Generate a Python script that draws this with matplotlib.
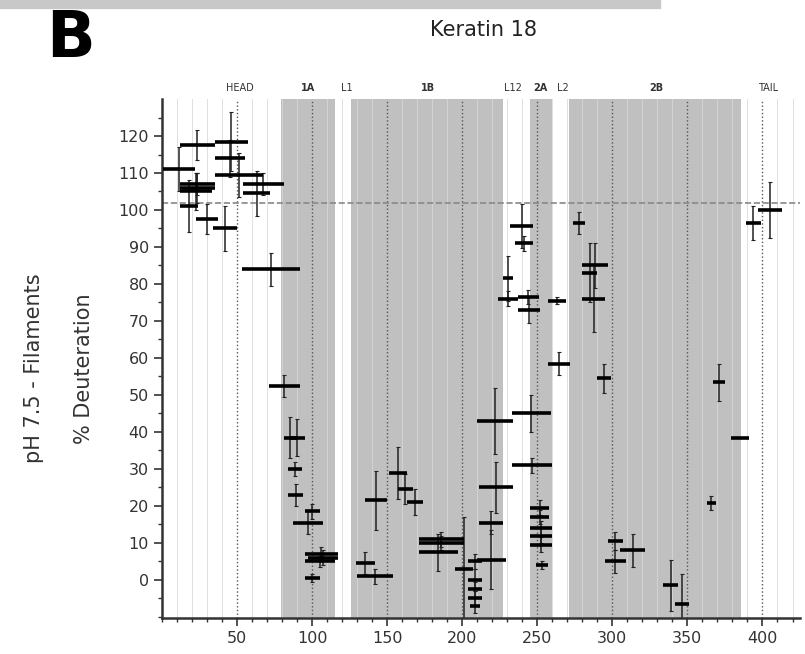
import matplotlib.pyplot as plt
from matplotlib.patches import Rectangle

# peptides: start residue, end residue, % deuteration, error
debut = [1, 12, 12, 12, 12, 12, 23, 34, 35, 35, 35, 54, 54, 53,
         71, 81, 85, 84, 84, 95, 87, 95, 97, 95, 95,
         129, 130, 135, 151, 157, 163, 171, 171, 171, 195, 204, 204, 204, 204, 205,
         210, 211, 211, 210,
         227, 232, 235, 224, 237, 237, 257, 257, 233, 233, 245, 245, 245, 245, 245, 249,
         274, 280, 280, 280, 290, 297, 295, 305, 334, 342, 367, 379, 363,
         389, 397]
fin = [22, 35, 35, 35, 33, 24, 37, 50, 57, 55, 67, 81, 72, 92,
       92, 90, 95, 93, 94, 105, 107, 117, 117, 115, 105,
       142, 154, 150, 163, 167, 174, 201, 201, 197, 207, 213, 213, 213, 213, 212,
       229, 227, 234, 234,
       234, 247, 247, 237, 251, 252, 269, 272, 259, 260, 258, 258, 260, 260, 260, 257,
       282, 297, 290, 295, 299, 307, 309, 322, 344, 351, 375, 391, 369,
       399, 413]
deuteration = [111, 117.5, 107, 106, 105, 101, 97.5, 95, 118.5, 114, 109.5, 107, 104.5, 84,
               52.5, 38.5, 38.5, 30, 23, 18.5, 15.5, 7, 6, 5, 0.5,
               4.6, 1, 21.5, 29, 24.5, 21, 11, 10, 7.5, 3, 5, 0, -2.5, -5, -7,
               5.5, 15.5, 25, 43,
               81.5, 95.7, 91, 76, 76.5, 73, 75.5, 58.5, 45, 31, 19.5, 17, 14, 12, 9.5, 4,
               96.5, 85, 83, 76, 54.5, 10.5, 5, 8, -1.5, -6.5, 53.5, 38.5, 20.8,
               96.5, 100]
erreur = [6, 4, 3, 4, 5, 7, 4, 6, 8, 5, 6, 3, 6, 4.5,
          3, 5.5, 5, 2, 3, 2, 3, 2, 2, 1.5, 1,
          3, 2, 8, 7, 4, 3.5, 2, 2, 5, 14, 2, 3, 2, 2, 2,
          8, 3, 7, 9,
          6, 6, 2, 2, 2, 3.5, 1, 3, 5, 2, 2, 2, 2, 2, 2, 1,
          3, 6, 8, 9, 4, 2.5, 3, 4.5, 7, 8, 5, 0, 2,
          4.5, 7.5]

# domaines
domaines = ["HEAD", "1A", "L1", "1B", "L12", "2A", "L2", "2B", "TAIL"]
pos_domaines = [52, 97, 123, 177, 234, 252, 267, 329, 404]
gras = [False, True, False, True, False, True, False, True, False]
zones_grises = [(79, 115), (126, 227), (245, 260), (271, 386)]

plt.rcParams['font.family'] = 'DejaVu Sans'

fig = plt.figure(figsize=(8.05, 6.54), dpi=100)
ax = fig.add_axes([0.2012, 0.055, 0.7926, 0.7936])

fig.patches.append(Rectangle((0, 0.988), 0.82, 0.012, transform=fig.transFigure,
                             color='#c8c8c8', zorder=0))

for a, b in zones_grises:
    ax.axvspan(a, b, color='#c0c0c0', zorder=0, lw=0)

for x in range(10, 430, 10):
    if x % 50 == 0:
        ax.axvline(x, color='#555555', ls=':', lw=1, zorder=1)
    else:
        ax.axvline(x, color='#d8d8d8', lw=0.7, alpha=0.8, zorder=0.5)

ax.axhline(102, color='#888888', ls='--', lw=1.2, zorder=1)

centres = [(d + f) / 2 for d, f in zip(debut, fin)]
ax.errorbar(centres, deuteration, yerr=erreur, fmt='none', ecolor='#222222',
            elinewidth=1.1, capsize=1.5, capthick=0.8, zorder=2)
ax.hlines(deuteration, debut, fin, colors='black', lw=2.6, zorder=3)

for nom, x, g in zip(domaines, pos_domaines, gras):
    ax.text(x, 133, nom, ha='center', va='center', fontsize=7,
            fontweight='bold' if g else 'normal', color='#333333', clip_on=False)

ax.set_xlim(0, 425)
ax.set_ylim(-10.3, 130)
ax.set_xticks(range(50, 401, 50))
ax.set_xticks(range(0, 421, 10), minor=True)
ax.set_yticks(range(0, 121, 10))
ax.set_yticks(range(-10, 130, 5), minor=True)
ax.tick_params(labelsize=11.5, colors='#333333', width=1.2, length=6)
ax.tick_params(which='minor', width=1, length=3, colors='#333333')

for s in ['top', 'right']:
    ax.spines[s].set_visible(False)
for s in ['left', 'bottom']:
    ax.spines[s].set_linewidth(1.8)
    ax.spines[s].set_color('#333333')

fig.text(0.6, 0.954, "Keratin 18", ha='center', va='center', fontsize=15, color='#222222')
fig.text(0.088, 0.94, "B", ha='center', va='center', fontsize=46, fontweight='bold')
fig.text(0.042, 0.437, "pH 7.5 - Filaments", rotation=90, ha='center', va='center',
         fontsize=15, color='#333333')
fig.text(0.104, 0.437, "% Deuteration", rotation=90, ha='center', va='center',
         fontsize=15, color='#333333')

plt.savefig("out.png", dpi=100)
